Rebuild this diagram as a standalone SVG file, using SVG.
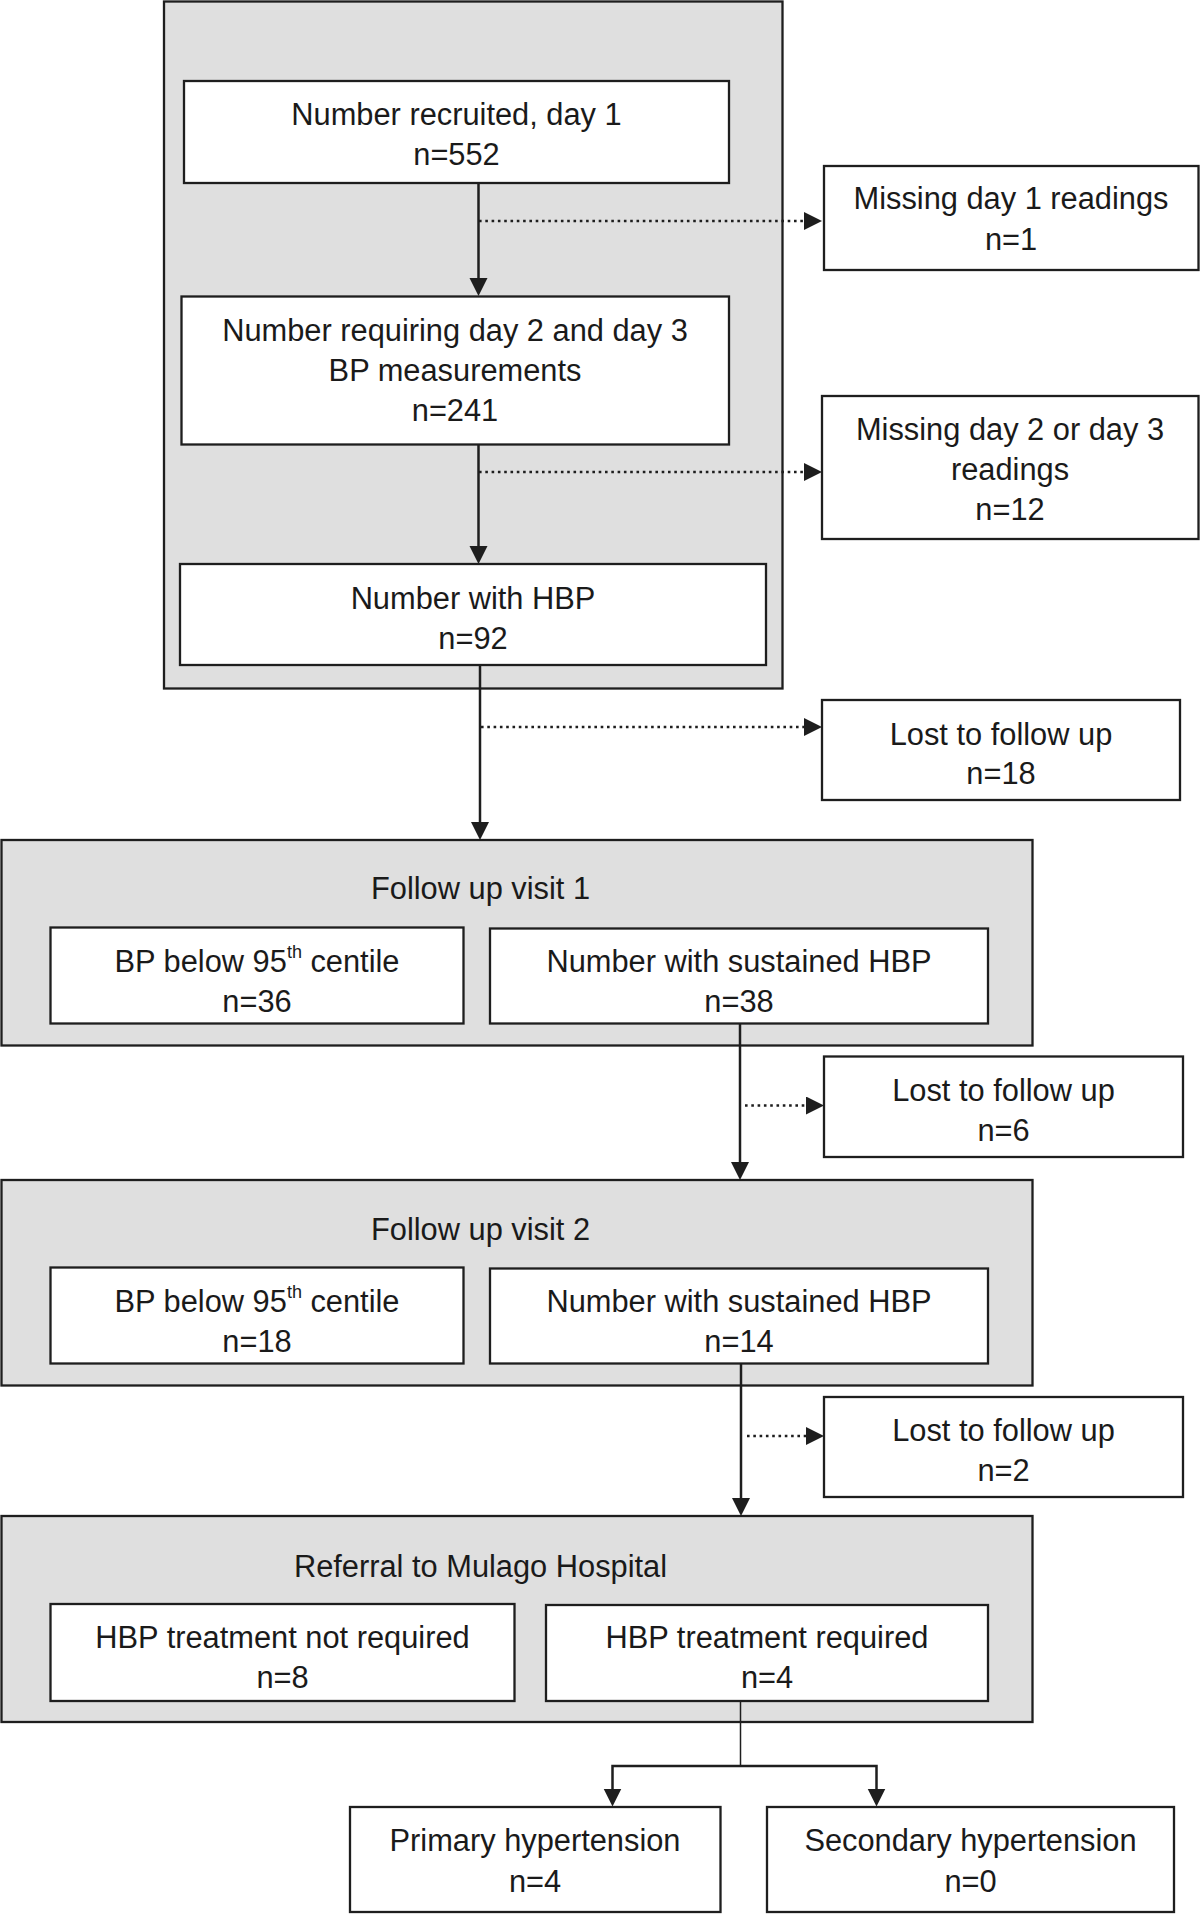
<svg xmlns="http://www.w3.org/2000/svg" width="1200" height="1914" viewBox="0 0 1200 1914">
<defs>
<marker id="ah" markerUnits="userSpaceOnUse" markerWidth="19" markerHeight="19" refX="14" refY="9" orient="auto" viewBox="0 0 19 19">
<path d="M0,0 L18,9 L0,18 z" fill="#1e1e1e"/>
</marker>
<style>
.grp{fill:#dfdfdf;stroke:#1e1e1e;stroke-width:2.3}
.box{fill:#ffffff;stroke:#1e1e1e;stroke-width:2.3}
text{font-family:"Liberation Sans",Arial,sans-serif;font-size:30.8px;fill:#1a1a1a;text-anchor:middle}
.sup{font-size:18px}
.solid{stroke:#1e1e1e;stroke-width:2.5;fill:none}
.thin{stroke:#1e1e1e;stroke-width:1.5;fill:none}
.dot{stroke:#1e1e1e;stroke-width:2.7;stroke-dasharray:2.6 3.7;fill:none}
</style>
</defs>
<rect width="1200" height="1914" fill="#ffffff"/>

<g id="group-screening">
<rect class="grp" x="164" y="1.5" width="618.5" height="687"/>
</g>
<g id="group-fu1">
<rect class="grp" x="1.5" y="840" width="1031" height="205.5"/>
<text x="480.5" y="899">Follow up visit 1</text>
</g>
<g id="group-fu2">
<rect class="grp" x="1.5" y="1180" width="1031" height="205.5"/>
<text x="480.5" y="1239.5">Follow up visit 2</text>
</g>
<g id="group-referral">
<rect class="grp" x="1.5" y="1516" width="1031" height="206"/>
<text x="480.5" y="1576.5">Referral to Mulago Hospital</text>
</g>

<g id="connectors">
<line class="solid" x1="478.5" y1="183" x2="478.5" y2="292" marker-end="url(#ah)"/>
<line class="dot" x1="479" y1="221" x2="818" y2="221" marker-end="url(#ah)"/>
<line class="solid" x1="478.5" y1="444.5" x2="478.5" y2="560" marker-end="url(#ah)"/>
<line class="dot" x1="479" y1="472" x2="818" y2="472" marker-end="url(#ah)"/>
<line class="solid" x1="480" y1="665" x2="480" y2="836" marker-end="url(#ah)"/>
<line class="dot" x1="481" y1="727" x2="818" y2="727" marker-end="url(#ah)"/>
<line class="solid" x1="740" y1="1023.5" x2="740" y2="1176" marker-end="url(#ah)"/>
<line class="dot" x1="745" y1="1105.5" x2="820" y2="1105.5" marker-end="url(#ah)"/>
<line class="solid" x1="741" y1="1363.5" x2="741" y2="1512" marker-end="url(#ah)"/>
<line class="dot" x1="747" y1="1436" x2="820" y2="1436" marker-end="url(#ah)"/>
<line class="thin" x1="740.5" y1="1701" x2="740.5" y2="1766"/>
<polyline class="solid" points="612.5,1802.5 612.5,1766 876.5,1766 876.5,1802.5"/>
<line class="solid" x1="612.5" y1="1790" x2="612.5" y2="1802.5" marker-end="url(#ah)"/>
<line class="solid" x1="876.5" y1="1790" x2="876.5" y2="1802.5" marker-end="url(#ah)"/>
</g>

<g id="n-recruited">
<rect class="box" x="184" y="81" width="545" height="102"/>
<text x="456.5" y="125">Number recruited, day 1</text>
<text x="456.5" y="165">n=552</text>
</g>
<g id="n-requiring">
<rect class="box" x="181.5" y="296.5" width="547.5" height="148"/>
<text x="455" y="341">Number requiring day 2 and day 3</text>
<text x="455" y="381">BP measurements</text>
<text x="455" y="421">n=241</text>
</g>
<g id="n-hbp">
<rect class="box" x="180" y="564" width="586" height="101"/>
<text x="473" y="608.5">Number with HBP</text>
<text x="473" y="649">n=92</text>
</g>
<g id="n-missing1">
<rect class="box" x="824" y="166" width="374.5" height="104"/>
<text x="1011" y="209">Missing day 1 readings</text>
<text x="1011" y="250">n=1</text>
</g>
<g id="n-missing2">
<rect class="box" x="822" y="396" width="376.5" height="143"/>
<text x="1010" y="440">Missing day 2 or day 3</text>
<text x="1010" y="480">readings</text>
<text x="1010" y="520">n=12</text>
</g>
<g id="n-lost1">
<rect class="box" x="822" y="700" width="358" height="100"/>
<text x="1001" y="744.5">Lost to follow up</text>
<text x="1001" y="784">n=18</text>
</g>
<g id="n-bp1">
<rect class="box" x="50.5" y="927.5" width="413" height="96"/>
<text x="257" y="971.7">BP below 95<tspan class="sup" dy="-14">th</tspan><tspan dy="14"> centile</tspan></text>
<text x="257" y="1011.7">n=36</text>
</g>
<g id="n-sustained1">
<rect class="box" x="490" y="928.5" width="498" height="95"/>
<text x="739" y="971.7">Number with sustained HBP</text>
<text x="739" y="1011.7">n=38</text>
</g>
<g id="n-lost2">
<rect class="box" x="824" y="1056.5" width="359" height="100.5"/>
<text x="1003.5" y="1101">Lost to follow up</text>
<text x="1003.5" y="1141">n=6</text>
</g>
<g id="n-bp2">
<rect class="box" x="50.5" y="1267.5" width="413" height="96"/>
<text x="257" y="1311.5">BP below 95<tspan class="sup" dy="-14">th</tspan><tspan dy="14"> centile</tspan></text>
<text x="257" y="1351.5">n=18</text>
</g>
<g id="n-sustained2">
<rect class="box" x="490" y="1268.5" width="498" height="95"/>
<text x="739" y="1311.5">Number with sustained HBP</text>
<text x="739" y="1351.5">n=14</text>
</g>
<g id="n-lost3">
<rect class="box" x="824" y="1397" width="359" height="100"/>
<text x="1003.5" y="1441">Lost to follow up</text>
<text x="1003.5" y="1481">n=2</text>
</g>
<g id="n-notreq">
<rect class="box" x="50.5" y="1604" width="464" height="97"/>
<text x="282.5" y="1647.5">HBP treatment not required</text>
<text x="282.5" y="1688">n=8</text>
</g>
<g id="n-req">
<rect class="box" x="546" y="1605" width="442" height="96"/>
<text x="767" y="1648">HBP treatment required</text>
<text x="767" y="1688">n=4</text>
</g>
<g id="n-primary">
<rect class="box" x="350" y="1807" width="370.5" height="105"/>
<text x="535" y="1850.5">Primary hypertension</text>
<text x="535" y="1891.5">n=4</text>
</g>
<g id="n-secondary">
<rect class="box" x="767" y="1807" width="407" height="105"/>
<text x="970.5" y="1850.5">Secondary hypertension</text>
<text x="970.5" y="1891.5">n=0</text>
</g>
</svg>
